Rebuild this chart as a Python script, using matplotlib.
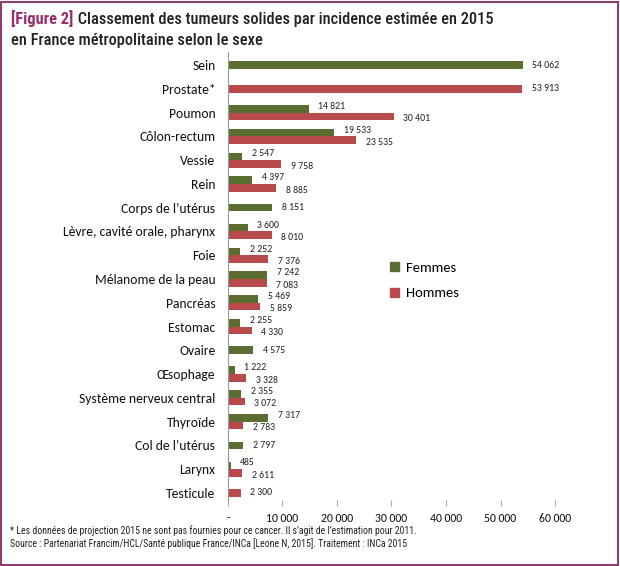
import matplotlib
matplotlib.use("Agg")
import matplotlib.pyplot as plt
from matplotlib import font_manager
from matplotlib.patches import Rectangle, Patch

categories = ["Sein", "Prostate*", "Poumon", "Côlon-rectum", "Vessie", "Rein",
              "Corps de l’utérus", "Lèvre, cavité orale, pharynx", "Foie",
              "Mélanome de la peau", "Pancréas", "Estomac", "Ovaire", "Œsophage",
              "Système nerveux central", "Thyroïde", "Col de l’utérus", "Larynx",
              "Testicule"]
femmes = [54062, None, 14821, 19533, 2547, 4397, 8151, 3600, 2252, 7242, 5469,
          2255, 4575, 1222, 2355, 7317, 2797, 485, None]
hommes = [None, 53913, 30401, 23535, 9758, 8885, None, 8010, 7376, 7083, 5859,
          4330, None, 3328, 3072, 2783, None, 2611, 2300]
xticks = [0, 10000, 20000, 30000, 40000, 50000, 60000]
xticklabels = ["-", "10 000", "20 000", "30 000", "40 000", "50 000", "60 000"]
series_names = ["Femmes", "Hommes"]

GREEN = "#5a6e32"
RED = "#b84a4b"
BORDER = "#8a3f6e"
PURPLE = "#9a2c6c"

installed = {f.name for f in font_manager.fontManager.ttflist}
def pick(*names):
    for n in names:
        if n in installed:
            return n
    return "DejaVu Sans"

BODY = pick("Carlito", "Lato", "Open Sans", "DejaVu Sans")
COND = pick("Liberation Sans Narrow", "Roboto Condensed", "Roboto", "DejaVu Sans")

fig = plt.figure(figsize=(6.2, 5.66), dpi=100)
fig.patch.set_facecolor("white")
fig.add_artist(Rectangle((0.002, 0.002), 0.995, 0.995, transform=fig.transFigure,
                         fill=False, edgecolor=BORDER, linewidth=1.5))

ax = fig.add_axes([0.3677, 0.1166, 0.5275, 0.7915])
h = 0.32
for i, cat in enumerate(categories):
    f = femmes[i]
    m = hommes[i]
    if f is not None and m is not None:
        yf, ym = i - h / 2, i + h / 2
    else:
        yf = ym = i
    if f is not None:
        ax.barh(yf, f, height=h, color=GREEN)
        dy = -0.1 if m is not None else 0
        ax.annotate(f"{f:,}".replace(",", " "), (f, yf + dy), xytext=(7, 0),
                    textcoords="offset points", va="center", ha="left",
                    fontsize=7, family=BODY, color="#222222")
    if m is not None:
        ax.barh(ym, m, height=h, color=RED)
        dy = 0.1 if f is not None else 0
        ax.annotate(f"{m:,}".replace(",", " "), (m, ym + dy), xytext=(7, 0),
                    textcoords="offset points", va="center", ha="left",
                    fontsize=7, family=BODY, color="#222222")

ax.set_xlim(0, 60000)
ax.set_ylim(len(categories) - 1 + 0.3, -0.55)
ax.set_yticks(range(len(categories)))
ax.set_yticklabels(categories, fontsize=9.8, family=BODY, color="#111111")
ax.set_xticks(xticks)
ax.set_xticklabels(xticklabels, fontsize=8.5, family=BODY, color="#111111")
ax.tick_params(axis="y", length=0, pad=9)
ax.tick_params(axis="x", length=4, color="#aaaaaa", pad=5)
for s in ["top", "right", "bottom"]:
    ax.spines[s].set_visible(False)
ax.spines["left"].set_color("#999999")
ax.spines["left"].set_linewidth(0.8)

handles = [Patch(color=GREEN), Patch(color=RED)]
leg = ax.legend(handles, series_names, loc="center left", bbox_to_anchor=(0.455, 0.49),
                frameon=False, prop={"family": BODY, "size": 10.5},
                handlelength=0.6, handleheight=0.6, labelspacing=0.95,
                handletextpad=0.5)

t1 = fig.text(0.018, 1 - 24 / 566, "[Figure 2]", color=PURPLE, fontsize=11.8,
              family=COND, weight="bold", va="baseline", ha="left")
ax.annotate(" Classement des tumeurs solides par incidence estimée en 2015",
            xy=(1, 0), xycoords=t1, va="bottom", ha="left", fontsize=11.8,
            family=COND, weight="medium", color="#222222", annotation_clip=False)
fig.text(0.018, 1 - 45 / 566, "en France métropolitaine selon le sexe",
         color="#222222", fontsize=11.8, family=COND, weight="medium",
         va="baseline", ha="left")

fig.text(0.016, 1 - 534 / 566,
         "* Les données de projection 2015 ne sont pas fournies pour ce cancer. Il s’agit de l’estimation pour 2011.",
         fontsize=7.0, family=COND, color="#222222", va="baseline")
fig.text(0.016, 1 - 547 / 566,
         "Source : Partenariat Francim/HCL/Santé publique France/INCa [Leone N, 2015]. Traitement : INCa 2015",
         fontsize=7.0, family=COND, color="#222222", va="baseline")

fig.savefig("out.png", dpi=100, facecolor="white")
